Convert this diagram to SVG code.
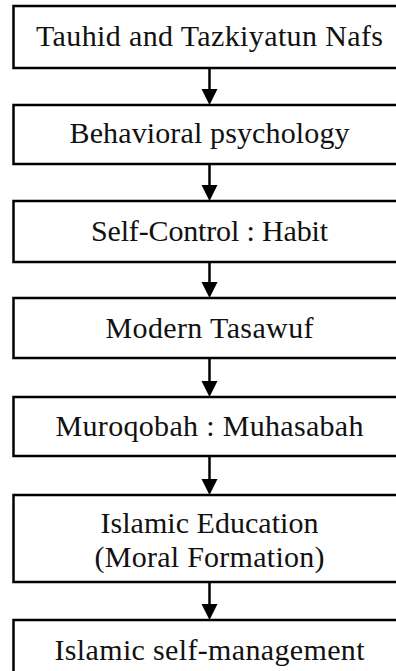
<svg xmlns="http://www.w3.org/2000/svg" width="396" height="671" viewBox="0 0 396 671">
<style>
.box{fill:#fff;stroke:#000;stroke-width:2.5}
.lbl{font-family:"Liberation Serif","Times New Roman",serif;font-size:30px;fill:#111;text-anchor:middle}
.conn{stroke:#000;stroke-width:2.5;fill:none}
.head{fill:#000}
</style>
<rect width="396" height="671" fill="#fff"/>
<g id="connectors">
<line class="conn" x1="209.5" y1="68" x2="209.5" y2="90"/><polygon class="head" points="201.5,89 217.5,89 209.5,105"/>
<line class="conn" x1="209.5" y1="164" x2="209.5" y2="186"/><polygon class="head" points="201.5,185 217.5,185 209.5,201"/>
<line class="conn" x1="209.5" y1="262" x2="209.5" y2="283"/><polygon class="head" points="201.5,282 217.5,282 209.5,298"/>
<line class="conn" x1="209.5" y1="358" x2="209.5" y2="382"/><polygon class="head" points="201.5,381 217.5,381 209.5,397"/>
<line class="conn" x1="209.5" y1="456" x2="209.5" y2="480"/><polygon class="head" points="201.5,479 217.5,479 209.5,495"/>
<line class="conn" x1="209.5" y1="582" x2="209.5" y2="605"/><polygon class="head" points="201.5,604 217.5,604 209.5,620"/>
</g>
<g id="n1"><rect class="box" x="13.5" y="6" width="392" height="62"/><text class="lbl" x="209.5" y="46" textLength="347" lengthAdjust="spacing">Tauhid and Tazkiyatun Nafs</text></g>
<g id="n2"><rect class="box" x="13.5" y="105" width="392" height="59"/><text class="lbl" x="209.5" y="143" textLength="280" lengthAdjust="spacing">Behavioral psychology</text></g>
<g id="n3"><rect class="box" x="13.5" y="201" width="392" height="61"/><text class="lbl" x="209.5" y="241" textLength="237" lengthAdjust="spacing">Self-Control : Habit</text></g>
<g id="n4"><rect class="box" x="13.5" y="298" width="392" height="60"/><text class="lbl" x="209.5" y="338" textLength="208" lengthAdjust="spacing">Modern Tasawuf</text></g>
<g id="n5"><rect class="box" x="13.5" y="397" width="392" height="59"/><text class="lbl" x="209.5" y="436" textLength="308" lengthAdjust="spacing">Muroqobah : Muhasabah</text></g>
<g id="n6"><rect class="box" x="13.5" y="495" width="392" height="87"/><text class="lbl" x="209.5" y="533" textLength="218" lengthAdjust="spacing">Islamic Education</text><text class="lbl" x="209.5" y="567" textLength="230" lengthAdjust="spacing">(Moral Formation)</text></g>
<g id="n7"><rect class="box" x="13.5" y="620" width="392" height="62"/><text class="lbl" x="209.5" y="660" textLength="310" lengthAdjust="spacing">Islamic self-management</text></g>
</svg>
